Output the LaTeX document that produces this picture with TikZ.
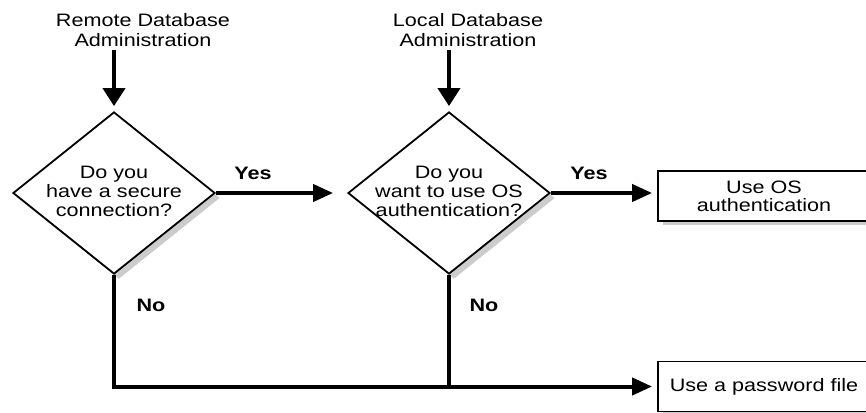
\documentclass[tikz,border=0pt]{standalone}
\usepackage{fontspec}
\setmainfont{Liberation Sans}[FakeStretch=1.2]
\usetikzlibrary{arrows.meta,shapes.geometric,shadows}

\begin{document}
\begin{tikzpicture}[x=1pt,y=-1pt,
  every node/.style={font=\fontsize{18}{20}\selectfont, align=center, inner sep=0pt},
  heading/.style={},
  question/.style={font=\fontsize{18}{19}\selectfont},
  decision/.style={diamond, draw, line width=1.8pt, fill=white,
    minimum width=202pt, minimum height=162pt, inner sep=0pt,
    drop shadow={shadow xshift=5pt, shadow yshift=-5pt, fill=black!20, opacity=1}},
  outcome/.style={rectangle, draw, line width=1.8pt, fill=white,
    minimum width=212pt, minimum height=50pt, font=\fontsize{18}{18}\selectfont,
    drop shadow={shadow xshift=5pt, shadow yshift=-4pt, fill=black!20, opacity=1}},
  answer/.style={font=\bfseries\fontsize{18}{20}\selectfont},
  entry/.style={line width=4pt, -{Triangle[length=18pt,width=22pt]}, shorten >=5pt},
  flow/.style={line width=4pt, -{Triangle[length=20pt,width=17pt]}},
]
\useasboundingbox (0,0) rectangle (866,412);

% entry points
\node[heading] (remote) at (143,30) {Remote Database\\Administration};
\node[heading] (local)  at (468,30) {Local Database\\Administration};

% decisions
\node[decision] (d1) at (114,193) {};
\node[question] (q1) at (114,191) {Do you\\have a secure\\connection?};
\node[decision] (d2) at (449,193) {};
\node[question] (q2) at (449,191) {Do you\\want to use OS\\authentication?};

% outcomes
\node[outcome] (os) at (764,196) {Use OS\\authentication};
\node[outcome] (pw) at (764,386.5) {Use a password file};

% connectors
\draw[entry] (d1.north |- remote.south) ++(0,3) -- (d1.north);
\draw[entry] (d2.north |- local.south) ++(0,3) -- (d2.north);

\draw[flow, shorten >=14pt] (d1.east) -- (d2.west);
\draw[flow, shorten >=5pt] (d2.east) -- (d2.east -| os.west);
\draw[flow, shorten >=5pt] (d1.south) |- (pw.west);
\draw[line width=4pt] (d2.south) -- (d2.south |- pw.west);

% branch labels
\node[answer] (yes1) at (253,173) {Yes};
\node[answer] (yes2) at (589,173) {Yes};
\node[answer] (no1)  at (151,305) {No};
\node[answer] (no2)  at (484,305) {No};
\end{tikzpicture}
\end{document}
